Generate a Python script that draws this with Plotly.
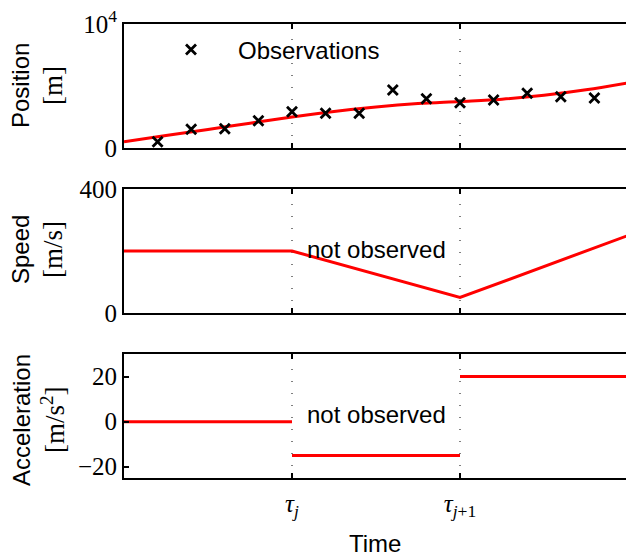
import plotly.graph_objects as go

# ---- data ----
obs_t = [0.2, 0.4, 0.6, 0.8, 1.0, 1.2, 1.4, 1.6, 1.8, 2.0, 2.2, 2.4, 2.6, 2.8]
obs_pos = [510, 1510, 1560, 2200, 2930, 2800, 2800, 4680, 3980, 3650, 3870, 4410, 4140, 4030]

curve_t = [0, 0.25, 0.5, 0.75, 1.0, 1.25, 1.5, 1.75, 2.0, 2.25, 2.5, 2.75, 3.0]
curve_pos = [500, 1000, 1500, 2000, 2500, 2950, 3310, 3580, 3750, 3940, 4250, 4690, 5250]

speed_t = [0, 1, 2, 3]
speed_v = [200, 200, 50, 250]

acc_t = [0, 1, None, 1, 2, None, 2, 3]
acc_v = [0, 0, None, -15, -15, None, 20, 20]

tau_vals = [1, 2]
tau_text = ["<i>τ</i><sub><i>j</i></sub>", "<i>τ</i><sub><i>j</i>+1</sub>"]

SERIF = "Liberation Serif"
SANS = "Liberation Sans"
W, H = 626, 554
L = 124

def dom(ytop, ybot):
    return [1 - ybot / H, 1 - ytop / H]

def px(xp):
    return (xp - L) / (W - L)

def py(yp):
    return 1 - yp / H

fig = go.Figure()

fig.add_trace(go.Scatter(x=curve_t, y=curve_pos, mode="lines", line=dict(color="red", width=3, shape="spline"),
                         xaxis="x", yaxis="y", showlegend=False))
fig.add_trace(go.Scatter(x=obs_t, y=obs_pos, mode="markers", name="Observations",
                         marker=dict(symbol="x-thin", size=10, line=dict(width=2.8, color="black"), color="black"),
                         xaxis="x", yaxis="y", showlegend=True))
fig.add_trace(go.Scatter(x=speed_t, y=speed_v, mode="lines", line=dict(color="red", width=3),
                         xaxis="x2", yaxis="y2", showlegend=False))
fig.add_trace(go.Scatter(x=acc_t, y=acc_v, mode="lines", line=dict(color="red", width=3),
                         xaxis="x3", yaxis="y3", showlegend=False, connectgaps=False))

xr = [0, (W - L) / 168.0]
xcommon = dict(range=xr, showline=True, mirror="ticks", linecolor="black", linewidth=2,
               ticks="inside", ticklen=5, tickwidth=1.5, tickcolor="black", automargin=False,
               tickvals=tau_vals, showgrid=False, zeroline=False, fixedrange=True)
ycommon = dict(showline=True, mirror=False, linecolor="black", linewidth=2, automargin=False,
               ticks="inside", ticklen=5, tickwidth=1.5, tickcolor="black",
               showgrid=False, zeroline=False, tickfont=dict(family=SERIF, size=25, color="black"))

fig.update_layout(
    template="none",
    width=W, height=H, margin=dict(l=L, r=0, t=0, b=0, pad=0),
    paper_bgcolor="white", plot_bgcolor="white",
    xaxis=dict(**xcommon, anchor="y", showticklabels=False),
    xaxis2=dict(**xcommon, anchor="y2", showticklabels=False),
    xaxis3=dict(**xcommon, anchor="y3", ticktext=tau_text, ticklabelstandoff=2,
                tickfont=dict(family=SERIF, size=25, color="black")),
    yaxis=dict(**ycommon, domain=dom(24, 148), range=[0, 10000], tickvals=[0, 10000],
               ticktext=["0", "10<sup>4</sup>"], anchor="x"),
    yaxis2=dict(**ycommon, domain=dom(189, 313), range=[0, 400], tickvals=[0, 400], anchor="x2"),
    yaxis3=dict(**ycommon, domain=dom(354, 478), range=[-25, 30], tickvals=[-20, 0, 20],
                ticktext=["−20", "0", "20"], anchor="x3"),
    legend=dict(x=px(144), y=py(50), xanchor="left", yanchor="middle",
                font=dict(family=SANS, size=24, color="black"), bgcolor="rgba(0,0,0,0)",
                itemwidth=84, borderwidth=0),
)

# dotted vertical lines
for xa, ya in [("x", "y"), ("x2", "y2"), ("x3", "y3")]:
    for tv in tau_vals:
        fig.add_shape(type="line", xref=xa, yref=ya + " domain", x0=tv, x1=tv, y0=0, y1=1,
                      line=dict(color="black", width=1, dash="1px,11px"), layer="below")

# not observed annotations
fig.add_annotation(x=1.5, y=205, xref="x2", yref="y2", text="not observed", showarrow=False,
                   font=dict(family=SANS, size=24, color="black"))
fig.add_annotation(x=1.5, y=3, xref="x3", yref="y3", text="not observed", showarrow=False,
                   font=dict(family=SANS, size=24, color="black"))

ann = [("Position", "[m]", 86), ("Speed", "[m/s]", 250), ("Acceleration", "[m/s<sup>2</sup>]", 420)]
for w, u, yc in ann:
    fig.add_annotation(x=px(21), y=py(yc), xref="paper", yref="paper", text=w, textangle=-90,
                       showarrow=False, font=dict(family=SANS, size=24, color="black"),
                       xanchor="center", yanchor="middle")
    fig.add_annotation(x=px(53), y=py(yc), xref="paper", yref="paper", text=u, textangle=-90,
                       showarrow=False, font=dict(family=SERIF, size=27, color="black"),
                       xanchor="center", yanchor="middle")

fig.add_annotation(x=0.5, y=py(543), xref="paper", yref="paper", text="Time", showarrow=False,
                   font=dict(family=SANS, size=24, color="black"), xanchor="center", yanchor="middle")

fig.write_html("out.html")
